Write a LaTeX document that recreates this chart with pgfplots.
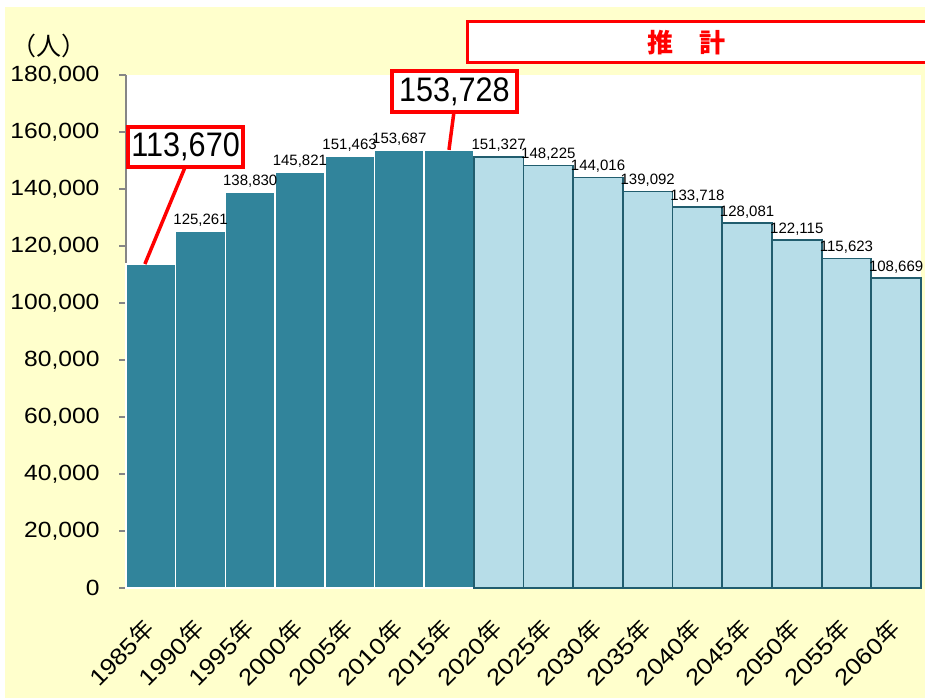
\documentclass[border=0pt]{standalone}
\usepackage{fontspec}
\setmainfont{Liberation Sans}
\newfontfamily\cjk{Noto Sans CJK JP}
\newfontfamily\tickfont[FakeStretch=1.12]{Liberation Sans}
\newfontfamily\calloutfont[FakeStretch=0.9]{Liberation Sans}
\usepackage{pgfplots}
\usepackage{pgfplotstable}
\pgfplotsset{compat=1.18}
\definecolor{bgyellow}{HTML}{FFFFCC}
\definecolor{darkteal}{HTML}{31849B}
\definecolor{lightteal}{HTML}{B7DDE8}
\definecolor{edgeteal}{HTML}{215D6E}
\definecolor{axisgray}{HTML}{868686}

% actual values (index 0 = 1985)
\pgfplotstableread{
x y lab
0 113670 {}
1 125261 125,261
2 138830 138,830
3 145821 145,821
4 151463 151,463
5 153687 153,687
6 153728 {}
}\actual
% projection
\pgfplotstableread{
x y lab
7 151327 151,327
8 148225 148,225
9 144016 144,016
10 139092 139,092
11 133718 133,718
12 128081 128,081
13 122115 122,115
14 115623 115,623
15 108669 108,669
}\projected

\begin{document}
\begin{tikzpicture}
\path[use as bounding box] (0,0) rectangle (925pt,698pt);
\fill[bgyellow] (5pt,0) rectangle (925pt,691pt);

\begin{axis}[
    at={(126pt,110pt)}, anchor=south west,
    scale only axis,
    width=795pt, height=513pt,
    xmin=-0.5, xmax=15.5,
    ymin=0, ymax=180000,
    clip=false,
    axis background/.style={fill=white},
    axis x line*=bottom, axis y line*=left,
    axis line style={-, axisgray, line width=1.5pt},
    ytick={0,20000,...,180000},
    scaled y ticks=false,
    tick align=outside,
    major tick length=7pt,
    ytick style={axisgray, line width=1.2pt},
    xtick style={draw=none},
    yticklabel style={font=\tickfont\fontsize{22}{22}\selectfont, xshift=-16pt,
        /pgf/number format/.cd, fixed, 1000 sep={,}, assume math mode=true},
    xtick={0,...,15},
    xticklabels={1985{\cjk 年},1990{\cjk 年},1995{\cjk 年},2000{\cjk 年},
        2005{\cjk 年},2010{\cjk 年},2015{\cjk 年},2020{\cjk 年},2025{\cjk 年},
        2030{\cjk 年},2035{\cjk 年},2040{\cjk 年},2045{\cjk 年},2050{\cjk 年},
        2055{\cjk 年},2060{\cjk 年}},
    xticklabel style={font=\tickfont\fontsize{23}{23}\selectfont,
        rotate=45, anchor=north east, xshift=-18pt, yshift=-6pt},
    point meta=explicit symbolic,
    nodes near coords,
    every node near coord/.append style={font=\fontsize{15}{15}\selectfont,
        anchor=south, yshift=3pt, inner sep=1pt},
]
\addplot[ybar, bar width=1, bar shift=0pt, fill=darkteal, draw=white, line width=1.5pt]
    table[x=x, y=y, meta=lab] {\actual};
\addplot[ybar, bar width=1, bar shift=0pt, fill=lightteal, draw=edgeteal, line width=1.8pt]
    table[x=x, y=y, meta=lab] {\projected};

% callouts
\draw[red, line width=3.5pt] (axis cs:0.69,147700) -- (axis cs:-0.12,113670);
\node[draw=red, line width=3.5pt, fill=white, minimum width=115pt, minimum height=40pt,
    inner sep=0pt, font=\calloutfont\fontsize{34}{34}\selectfont]
    at (axis cs:0.70,154700) {113,670};
\draw[red, line width=3.5pt] (axis cs:6.1,167000) -- (axis cs:6.0,153728);
\node[draw=red, line width=3.5pt, fill=white, minimum width=125pt, minimum height=41pt,
    inner sep=0pt, font=\calloutfont\fontsize{34}{34}\selectfont]
    at (axis cs:6.11,174200) {153,728};
\end{axis}

% unit label and projection banner
\node[font=\cjk\fontsize{25}{25}\selectfont] at (49pt,652pt) {（人）};
\filldraw[draw=red, fill=white, line width=3pt] (467pt,635pt) rectangle (935pt,676pt);
\node[red, font=\cjk\bfseries\fontsize{26}{26}\selectfont] at (686pt,655pt) {推　計};
\end{tikzpicture}
\end{document}
